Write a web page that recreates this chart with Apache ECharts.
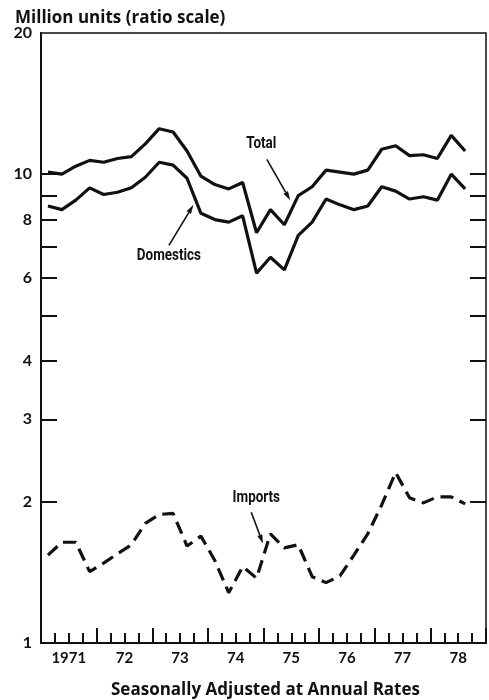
<!DOCTYPE html>
<html>
<head>
<meta charset="utf-8">
<script src="https://cdn.jsdelivr.net/npm/echarts@6/dist/echarts.min.js"></script>
<style>
  html, body { margin: 0; padding: 0; background: #fff; }
  #chart { width: 489px; height: 700px; }
</style>
</head>
<body>
<div id="chart"></div>
<script>
// quarterly, seasonally adjusted annual rates, 1971Q1 .. 1978Q3
const quarters = [
  "1971Q1", "1971Q2", "1971Q3", "1971Q4", "1972Q1", "1972Q2", "1972Q3", "1972Q4",
  "1973Q1", "1973Q2", "1973Q3", "1973Q4", "1974Q1", "1974Q2", "1974Q3", "1974Q4",
  "1975Q1", "1975Q2", "1975Q3", "1975Q4", "1976Q1", "1976Q2", "1976Q3", "1976Q4",
  "1977Q1", "1977Q2", "1977Q3", "1977Q4", "1978Q1", "1978Q2", "1978Q3",
];
const total = [
  10.1, 10.0, 10.4, 10.7, 10.6, 10.8, 10.9, 11.6,
  12.5, 12.3, 11.2, 9.9, 9.5, 9.3, 9.6, 7.5,
  8.4, 7.8, 9.0, 9.4, 10.2, 10.1, 10.0, 10.2,
  11.3, 11.5, 10.95, 11.0, 10.8, 12.1, 11.2,
];
const domestics = [
  8.55, 8.4, 8.8, 9.35, 9.05, 9.15, 9.35, 9.85,
  10.6, 10.45, 9.8, 8.25, 8.0, 7.9, 8.15, 6.15,
  6.65, 6.25, 7.4, 7.9, 8.85, 8.6, 8.4, 8.55,
  9.4, 9.2, 8.85, 8.95, 8.8, 10.0, 9.3,
];
const imports = [
  1.54, 1.64, 1.64, 1.42, 1.48, 1.55, 1.62, 1.80,
  1.88, 1.89, 1.61, 1.69, 1.50, 1.28, 1.455, 1.375,
  1.71, 1.595, 1.62, 1.385, 1.345, 1.39, 1.54, 1.71,
  1.97, 2.31, 2.04, 1.99, 2.05, 2.05, 1.98,
];
const yLabelValues = [1, 2, 3, 4, 6, 8, 10, 20];
const yTickValues = [2, 3, 4, 5, 6, 7, 8, 9, 10];
const yearLabels = ["1971", "72", "73", "74", "75", "76", "77", "78"];

// annotation anchors in data space: [year, value]
const notes = [
  { text: "Total", at: [1974.96, 11.6], from: [1975.06, 10.75], to: [1975.48, 8.8] },
  { text: "Domestics", at: [1973.30, 6.68], from: [1973.30, 7.05], to: [1973.74, 8.6] },
  { text: "Imports", at: [1974.87, 2.04], from: [1974.78, 1.90], to: [1974.99, 1.63] },
];

const ink = "#111";
const tickFont = "Lato";
const headFont = "'Open Sans'";
const noteFont = "Roboto";

function qx(q) {
  const year = Number(q.slice(0, 4));
  const n = Number(q.slice(5));
  return year + (n - 0.5) / 4;
}

function pairs(values) {
  return quarters.map((q, i) => [qx(q), values[i]]);
}

const chart = echarts.init(document.getElementById("chart"));

const lineBase = {
  type: "line",
  symbol: "none",
  silent: true,
  animation: false,
};

chart.setOption({
  animation: false,
  title: [
    {
      text: "Million units (ratio scale)",
      left: 10, top: 5,
      textStyle: { fontFamily: headFont, fontSize: 17, fontWeight: "bold", color: ink },
    },
    {
      text: "Seasonally Adjusted at Annual Rates",
      left: 106, top: 677,
      textStyle: { fontFamily: headFont, fontSize: 17, fontWeight: "bold", color: ink },
    },
  ],
  grid: {
    left: 41, top: 33, width: 449, height: 610,
    show: true, borderColor: ink, borderWidth: 1.5, backgroundColor: "transparent",
  },
  xAxis: [
    {
      type: "value", min: 1971, max: 1979, interval: 0.25, position: "bottom",
      axisLine: { lineStyle: { color: ink, width: 2 } },
      axisTick: { inside: true, length: 10, lineStyle: { color: ink, width: 2 } },
      axisLabel: {
        color: ink, fontFamily: tickFont, fontSize: 15, fontWeight: "bold", margin: 8,
        showMinLabel: true, showMaxLabel: true,
        formatter: (v) => {
          const k = Math.round((v - 1971.5) * 4);
          if (k % 4 !== 0 || k < 0) return "";
          return yearLabels[k / 4] || "";
        },
      },
      splitLine: { show: false },
    },
    {
      type: "value", min: 1971, max: 1979, interval: 1, position: "bottom",
      axisLine: { show: false },
      axisTick: { inside: true, length: 15, lineStyle: { color: ink, width: 2 } },
      axisLabel: { show: false },
      splitLine: { show: false },
    },
  ],
  yAxis: [
    {
      type: "log", logBase: 10, min: 1, max: 20, position: "left",
      axisLine: { show: true, lineStyle: { color: ink, width: 2 } },
      axisTick: { inside: true, length: 16, customValues: yTickValues, lineStyle: { color: ink, width: 2 } },
      axisLabel: {
        customValues: yLabelValues, color: ink, fontFamily: tickFont,
        fontSize: 16, fontWeight: "bold", margin: 9,
      },
      splitLine: { show: false },
    },
    {
      type: "log", logBase: 10, min: 1, max: 20, position: "right",
      axisLine: { show: false },
      axisTick: { inside: true, length: 16, customValues: yTickValues, lineStyle: { color: ink, width: 2 } },
      axisLabel: { show: false },
      splitLine: { show: false },
    },
  ],
  series: [
    { ...lineBase, name: "Total", data: pairs(total), lineStyle: { color: ink, width: 3.2 } },
    { ...lineBase, name: "Domestics", data: pairs(domestics), lineStyle: { color: ink, width: 3.2 } },
    { ...lineBase, name: "Imports", data: pairs(imports), lineStyle: { color: ink, width: 3.2, type: [13, 7] } },
  ],
});

function arrow(p0, p1) {
  const dx = p1[0] - p0[0], dy = p1[1] - p0[1];
  const len = Math.hypot(dx, dy);
  const ux = dx / len, uy = dy / len;
  const head = 9, half = 2.6;
  const bx = p1[0] - ux * head, by = p1[1] - uy * head;
  return [
    {
      type: "line", silent: true,
      shape: { x1: p0[0], y1: p0[1], x2: bx, y2: by },
      style: { stroke: ink, lineWidth: 1.6 },
    },
    {
      type: "polygon", silent: true,
      shape: { points: [[p1[0], p1[1]], [bx - uy * half, by + ux * half], [bx + uy * half, by - ux * half]] },
      style: { fill: ink },
    },
  ];
}

const graphics = [];
notes.forEach((n) => {
  const c = chart.convertToPixel({ gridIndex: 0 }, n.at);
  // condensed face: squeeze a regular bold face horizontally
  graphics.push({
    type: "text", silent: true, x: c[0], y: c[1], scaleX: 0.84,
    style: {
      text: n.text, fill: ink, font: `bold 16px ${noteFont}`,
      align: "center", verticalAlign: "middle",
    },
  });
  const a = chart.convertToPixel({ gridIndex: 0 }, n.from);
  const b = chart.convertToPixel({ gridIndex: 0 }, n.to);
  graphics.push(...arrow(a, b));
});
chart.setOption({ graphic: graphics });
</script>
</body>
</html>
